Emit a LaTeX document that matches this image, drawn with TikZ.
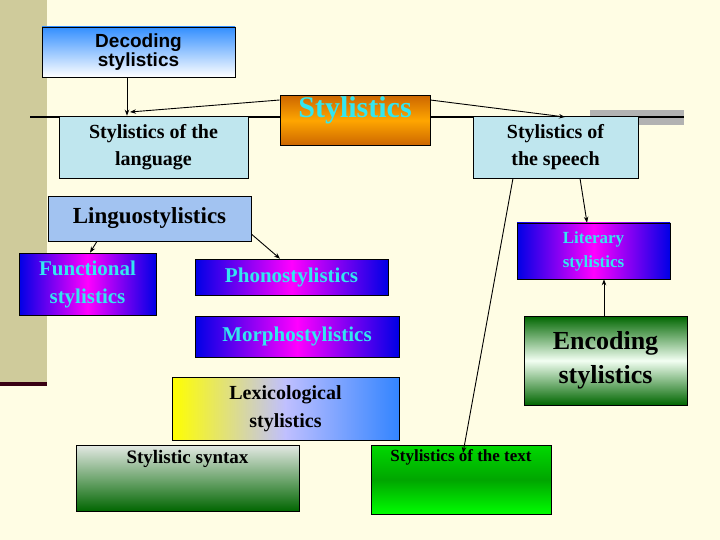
\documentclass[tikz,border=0pt]{standalone}
\usepackage{fontspec}
\setmainfont{Liberation Serif}
\newfontfamily\arialf{Liberation Sans}
\usetikzlibrary{arrows.meta}
\definecolor{bg}{HTML}{FFFDE4}
\definecolor{bar}{HTML}{CFCB9B}
\definecolor{cyantxt}{HTML}{33E6F0}
\definecolor{icy}{HTML}{BFE6EE}
\tikzset{
 px/.style={x=1pt,y=-1pt},
 box/.style={draw=black,line width=0.6pt,inner sep=1pt,align=center,font=\bfseries},
 icebox/.style={box,fill=icy,font=\bfseries\fontsize{20}{27}\selectfont},
 purp/.style={box,top color=blue!90!black,bottom color=blue!90!black,middle color=magenta,shading angle=90,text=cyantxt,font=\bfseries\fontsize{21}{28}\selectfont},
 arr/.style={-{Stealth[length=6pt,width=4.5pt]},line width=0.9pt},
}
\begin{document}
\begin{tikzpicture}[px]
\useasboundingbox (0,0) rectangle (720,540);
\fill[bg] (0,0) rectangle (720,540);
\fill[bar] (0,0) rectangle (47,382);
\fill[black!70!purple] (0,382) rectangle (47,386);
\fill[gray!60] (590,110) rectangle (684,125);
\draw[line width=1.2pt] (30,117) -- (684,117);
\node[box,minimum width=193pt,minimum height=50pt,top color=blue!55!cyan!80,bottom color=white,font=\arialf\bfseries\fontsize{19}{19}\selectfont] (dec) at (138.5,52) {Decoding\\stylistics};
\node[icebox,minimum width=189pt,minimum height=62pt] (lang) at (153.5,147) {Stylistics of the\\language};
\node[box,minimum width=150pt,minimum height=50pt,top color=orange!80!black,bottom color=orange!80!black,middle color=orange!70!yellow,text=cyantxt,font=\bfseries\fontsize{30}{30}\selectfont,anchor=north,text depth=26pt] (sty) at (355,95) {Stylistics};
\node[icebox,minimum width=165pt,minimum height=62pt] (sp) at (555.5,147) {Stylistics of\\the speech};
\node[box,minimum width=203pt,minimum height=45pt,fill=blue!15!icy,font=\bfseries\fontsize{23}{26}\selectfont] (ling) at (149.5,218.5) {Linguostylistics};
\node[purp,minimum width=137pt,minimum height=62pt,font=\bfseries\fontsize{21}{28}\selectfont] (fun) at (87.5,284) {Functional\\stylistics};
\node[purp,minimum width=193pt,minimum height=36pt] (pho) at (291.5,277) {Phonostylistics};
\node[purp,minimum width=204pt,minimum height=41pt] (mor) at (297,336.5) {Morphostylistics};
\node[box,minimum width=227pt,minimum height=63pt,left color=yellow,right color=blue!60!cyan!80,middle color=blue!25!white,font=\bfseries\fontsize{20}{28}\selectfont] (lex) at (285.5,408.5) {Lexicological\\stylistics};
\node[box,minimum width=223pt,minimum height=66pt,top color=green!10!gray!20,bottom color=green!40!black,font=\bfseries\fontsize{19}{22}\selectfont,anchor=north,text depth=42pt] (syn) at (187.5,445) {Stylistic syntax};
\node[box,minimum width=180pt,minimum height=69pt,top color=green!85!black,bottom color=green,middle color=green!65!black,font=\bfseries\fontsize{17}{18}\selectfont,anchor=north,text depth=48pt] (txt) at (461,445) {Stylistics of the text};
\node[purp,minimum width=153pt,minimum height=56pt,font=\bfseries\fontsize{17}{24}\selectfont] (lit) at (593.5,251) {Literary\\stylistics};
\node[box,minimum width=163pt,minimum height=89pt,top color=green!40!black,bottom color=green!40!black,middle color=green!5!white,font=\bfseries\fontsize{26}{34}\selectfont] (enc) at (605.5,360.5) {Encoding\\stylistics};
\draw[arr] (dec.south -| 127,0) -- (lang.north -| 127,0);
\draw[arr] (sty.west |- 0,100) -- (130,112);
\draw[arr] (sty.east |- 0,100) -- (565,117);
\draw[arr] (sp.south -| 513,0) -- (463,453);
\draw[arr] (sp.south -| 580,0) -- (lit.north -| 587,0);
\draw[arr] (enc.north -| 604,0) -- (lit.south -| 604,0);
\draw[arr] (ling.south -| 97,0) -- (fun.north -| 90,0);
\draw[arr] (ling.east |- 0,234) -- (pho.north -| 280,0);
\end{tikzpicture}
\end{document}
